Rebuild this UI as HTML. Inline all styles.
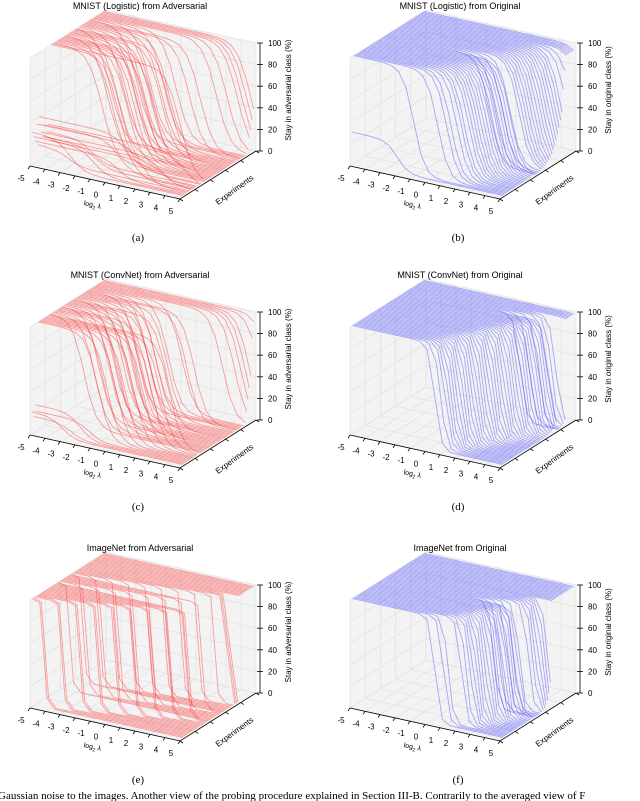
<!DOCTYPE html>
<html><head><meta charset="utf-8"><style>
body{margin:0;background:#fff;width:640px;height:801px;overflow:hidden}
svg{display:block}
text{font-family:"Liberation Sans",sans-serif}
</style></head><body>
<svg id="fig" width="640" height="801" viewBox="0 0 640 801">
<text x="-2" y="799" font-size="11" fill="#000" style="font-family:'Liberation Serif',serif">Gaussian noise to the images. Another view of the probing procedure explained in Section III-B. Contrarily to the averaged view of F</text>
</svg>
<script>
// chart data: per panel, threshold (log2 lambda where class flips) and starting level
const xs = [-5,-4.5,-4,-3.5,-3,-2.5,-2,-1.5,-1,-0.5,0,0.5,1,1.5,2,2.5,3,3.5,4,4.5,5];
const xTicks = [-5,-4,-3,-2,-1,0,1,2,3,4,5];
const zTicks = [0,20,40,60,80,100];
const thrA = [-2.5,-1,0.5,2,-3,1,3,-1.5,0,2.5,-2,4,1.5,-0.5,3.5,-1.8,-1.2,-0.8,-0.4,0,0.3,0.6,1,-2.2,-1.6,-1,-0.6,-0.2,0.2,0.8,1.2,-2.8,-2,-1.4,-0.9,-0.5,0.1,0.5,1.8,2.4,-1.9,-1.1,-0.3,0.4,3,3.6,4.2,4.4,4.6,4.8];
const topA = [30,25,20,35,15,40,25,20,30,18,22,28,12,100,100,100,100,100,100,100,100,100,100,100,100,100,100,100,100,100,100,100,100,100,100,100,100,100,100,100,100,100,100,100,100,100,100,100,100,100];
const thrB = [-2,-1,0.5,1,1.2,1.5,1.7,1.8,2,2.1,2.2,2.3,2.4,2.5,2.6,2.7,2.8,2.9,3,3.1,3.2,3.3,3.4,1.9,2.2,2.6,3,3.5,3.6,3.7,3.8,3.9,4,4.1,4.2,4.3,4.4,4.5,4.6,4.7,4.8,4.9,5.2,5.5,6,6,6,6,6,6];
const topB = [30,100,100,100,100,100,100,100,100,100,100,100,100,100,100,100,100,100,100,100,100,100,100,100,100,100,100,100,100,100,100,100,100,100,100,100,100,100,100,100,100,100,100,100,100,100,100,100,100,100];
const thrC = [-3,-2.5,-2,-1.5,-1,-0.5,0,0.5,1,1.5,2,2.5,3,-2.8,-2.2,-1.8,-1.2,-0.8,-0.2,0.2,0.8,-2.6,-2,-1.6,-1,-0.6,-0.3,0.3,1.2,-2.4,-1.9,-1.4,-0.9,-0.4,0,0.6,1.8,2.2,-1.7,-1.1,-0.7,0.1,0.9,3.5,4.2,4.5,4.7,4.9,5.5,6];
const topC = [20,15,25,18,100,100,100,100,100,100,100,100,100,100,100,100,100,100,100,100,100,100,100,100,100,100,100,100,100,100,100,100,100,100,100,100,100,100,100,100,100,100,100,100,100,100,100,100,100,100];
const thrD = [0.5,0.8,1,1.1,1.2,1.3,1.4,1.5,1.6,1.7,1.8,1.9,2,2.1,2.2,2.3,2.4,2.5,2.6,2.7,2.8,2.9,3,3.1,3.2,3.3,3.4,3.5,3.6,3.7,3.8,3.9,4,4.1,4.2,4.3,4.4,4.5,2.5,3,3.5,4,4.2,4.4,6,6,6,6,6,6];
const thrE = [-4.2,-4.2,-3.2,-3.2,-2.2,-2.2,-1.2,-1.2,-0.2,-0.2,0.8,0.8,1.8,1.8,2.8,2.8,3.8,3.8,-4.2,-3.2,-2.2,-1.2,-0.2,0.8,1.8,2.8,3.8,-4.2,-3.2,-2.2,-1.2,-0.2,0.8,1.8,2.8,3.8,4.5,4.5,4.5,6,6,6,6,6,6,6,6,6,6,6];
const thrF = [0.5,1,1.2,2,2.2,2.4,2.5,2.6,2.7,2.8,2.9,3,3.1,3.2,3.3,3.4,3.5,3.6,3.7,3.8,3.9,4,2.3,2.6,3,3.3,3.6,4.1,4.3,4.4,4.5,4.6,4.7,4.8,6,6,6,6,6,6,6,6,6,6,6,6,6,6,6,6];

const NS='http://www.w3.org/2000/svg';
const svg=document.getElementById('fig');
function mk(tag,attrs,parent){const e=document.createElementNS(NS,tag);for(const k in attrs)e.setAttribute(k,attrs[k]);parent.appendChild(e);return e;}
function P(x,y,z){const u=(x+5)/10;return [30+150*u+76*y, 166+33*u-48*y-1.08*z];}
function pt(p){return p[0].toFixed(1)+','+p[1].toFixed(1);}

const panels=[
 {ox:0,oy:0,title:'MNIST (Logistic) from Adversarial',cap:'(a)',zl:'Stay in adversarial class (%)',thr:thrA,top:topA,k:2.2,col:'rgba(255,40,40,0.42)'},
 {ox:320,oy:0,title:'MNIST (Logistic) from Original',cap:'(b)',zl:'Stay in original class (%)',thr:thrB,top:topB,k:2.8,col:'rgba(60,60,255,0.42)'},
 {ox:0,oy:269,title:'MNIST (ConvNet) from Adversarial',cap:'(c)',zl:'Stay in adversarial class (%)',thr:thrC,top:topC,k:2.5,col:'rgba(255,40,40,0.42)'},
 {ox:320,oy:269,title:'MNIST (ConvNet) from Original',cap:'(d)',zl:'Stay in original class (%)',thr:thrD,top:null,k:5,col:'rgba(60,60,255,0.42)'},
 {ox:0,oy:542,title:'ImageNet from Adversarial',cap:'(e)',zl:'Stay in adversarial class (%)',thr:thrE,top:null,k:12,col:'rgba(255,40,40,0.42)'},
 {ox:320,oy:542,title:'ImageNet from Original',cap:'(f)',zl:'Stay in original class (%)',thr:thrF,top:null,k:6,col:'rgba(60,60,255,0.42)'}
];

panels.forEach((pn,pi)=>{
 const g=mk('g',{transform:`translate(${pn.ox},${pn.oy})`},svg);
 
 
 const panes=[[P(-5,0,0),P(-5,1,0),P(-5,1,100),P(-5,0,100)],[P(-5,1,0),P(5,1,0),P(5,1,100),P(-5,1,100)],[P(-5,0,0),P(5,0,0),P(5,1,0),P(-5,1,0)]];
 panes.forEach((q,i)=>{const e=mk('polygon',{points:q.map(pt).join(' '),fill:'#f3f3f3',stroke:'none'},g);
  
  });
 const grid=mk('g',{stroke:'#e2e2e2','stroke-width':0.7,fill:'none'},g);
 
 
 xTicks.forEach(x=>{mk('polyline',{points:[P(x,0,0),P(x,1,0),P(x,1,100)].map(pt).join(' ')},grid);});
 zTicks.forEach(z=>{mk('polyline',{points:[P(-5,0,z),P(-5,1,z),P(5,1,z)].map(pt).join(' ')},grid);});
 for(let j=0;j<=5;j++){const y=j/5;mk('polyline',{points:[P(5,y,0),P(-5,y,0),P(-5,y,100)].map(pt).join(' ')},grid);}
 const lines=mk('g',{fill:'none',stroke:pn.col,'stroke-width':0.9},g);
 
 
 const N=pn.thr.length;
 for(let j=N-1;j>=0;j--){
  const y=0.03+0.94*j/(N-1);
  const t=pn.thr[j], top=pn.top?pn.top[j]:100;
  const pts=xs.map(x=>{const z=2+(top-2)/(1+Math.exp(pn.k*(x-t)));return pt(P(x,y,z));});
  const l=mk('polyline',{points:pts.join(' ')},lines);
  
  
 }
 const ax=mk('g',{stroke:'#000','stroke-width':0.8,fill:'none'},g);
 
 
 mk('polyline',{points:[P(-5,0,0),P(5,0,0),P(5,1,0)].map(pt).join(' ')},ax);
 mk('line',{x1:P(5,1,0)[0]+4,y1:P(5,1,0)[1],x2:P(5,1,0)[0]+4,y2:P(5,1,100)[1]},ax);
 xTicks.forEach(x=>{const a=P(x,0,0);mk('line',{x1:a[0],y1:a[1],x2:a[0]-2,y2:a[1]+3},ax);
  const t=mk('text',{x:a[0]-9,y:a[1]+15,'font-size':8,'text-anchor':'middle',fill:'#000',stroke:'none'},g);t.textContent=x;
  });
 for(let j=0;j<=5;j++){const a=P(5,j/5,0);mk('line',{x1:a[0],y1:a[1],x2:a[0]+3,y2:a[1]+2},ax);}
 zTicks.forEach(z=>{const a=P(5,1,z);mk('line',{x1:a[0]+1,y1:a[1],x2:a[0]+7,y2:a[1]},ax);
  const t=mk('text',{x:a[0]+12,y:a[1]+3,'font-size':8,fill:'#000',stroke:'none'},g);t.textContent=z;
  });
 const xl=mk('text',{x:0,y:0,'font-size':7,'text-anchor':'middle',transform:'translate(92,207) rotate(12)'},g);
 xl.innerHTML='log<tspan font-size="5" dy="2">2</tspan><tspan dy="-2"> λ</tspan>';
 
 const yl=mk('text',{x:0,y:0,'font-size':8,'text-anchor':'middle',transform:'translate(236,192) rotate(-36)'},g);
 yl.textContent='Experiments';
 
 const zl=mk('text',{x:0,y:0,'font-size':8,'text-anchor':'middle',transform:'translate(291,90) rotate(-90)'},g);
 zl.textContent=pn.zl;
 
 const ti=mk('text',{x:140,y:9,'font-size':9,'text-anchor':'middle'},g);
 ti.textContent=pn.title;
 
 const ca=mk('text',{x:138,y:241,'font-size':11,'text-anchor':'middle',style:"font-family:'Liberation Serif',serif"},g);
 ca.textContent=pn.cap;
 
});
</script>
</body></html>
